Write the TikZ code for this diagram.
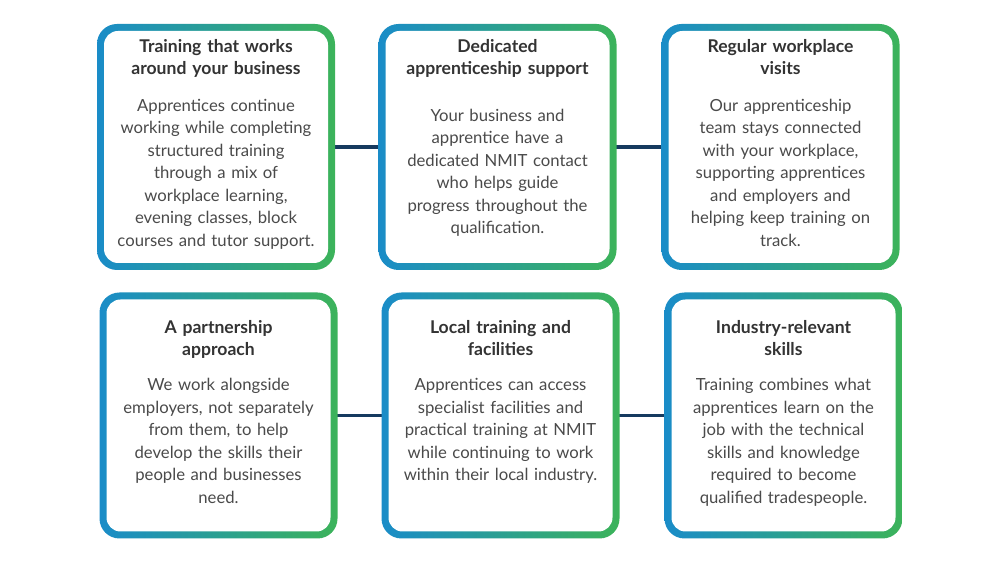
\documentclass[tikz,border=0pt]{standalone}
\usepackage{fontspec}
\setmainfont{Lato}
\usetikzlibrary{positioning}
\definecolor{nmitblue}{HTML}{1A8CC8}
\definecolor{nmitgreen}{HTML}{3CB35A}
\definecolor{linknavy}{HTML}{163A5F}
\definecolor{headgray}{HTML}{333333}
\definecolor{bodygray}{HTML}{4A4A4A}
\tikzset{
  card/.style={rounded corners=0.4cm, minimum width=4.76cm, minimum height=4.92cm,
    left color=nmitblue, right color=nmitgreen, inner sep=0pt},
  cardin/.style={rounded corners=0.28cm, fill=white, minimum width=4.48cm,
    minimum height=4.64cm, inner sep=0pt},
  head/.style={align=center, text width=4.4cm, inner sep=0pt, text=headgray,
    font=\fontsize{10}{12.6}\selectfont\bfseries},
  body/.style={align=center, text width=4.4cm, inner sep=0pt, text=bodygray,
    font=\fontsize{9.5}{12.8}\selectfont},
  link/.style={linknavy, line width=2.2pt}
}
\begin{document}
\begin{tikzpicture}
\useasboundingbox (0,0) rectangle (20,11.24);
% links sit behind the cards
\draw[link] (4.32,8.30) -- (15.61,8.30);
\draw[link] (4.37,2.93) -- (15.67,2.93);
% top row
\node[card] (b1) at (4.32,8.30) {};
\node[card] (b2) at (9.95,8.30) {};
\node[card] (b3) at (15.61,8.30) {};
% bottom row
\node[card] (b4) at (4.37,2.93) {};
\node[card] (b5) at (10.01,2.93) {};
\node[card] (b6) at (15.67,2.93) {};
\foreach \b in {b1,b2,b3,b4,b5,b6}
  \node[cardin] (\b in) at (\b) {};

\node[head, below=0.30cm of b1.north] (t1) {Training that works\\around your business};
\node[body, below=1.50cm of b1.north] (x1) {Apprentices continue\\working while completing\\structured training\\through a mix of\\workplace learning,\\evening classes, block\\courses and tutor support.};
\node[head, below=0.30cm of b2.north] (t2) {Dedicated\\apprenticeship support};
\node[body, below=1.70cm of b2.north] (x2) {Your business and\\apprentice have a\\dedicated NMIT contact\\who helps guide\\progress throughout the\\qualification.};
\node[head, below=0.30cm of b3.north] (t3) {Regular workplace\\visits};
\node[body, below=1.50cm of b3.north] (x3) {Our apprenticeship\\team stays connected\\with your workplace,\\supporting apprentices\\and employers and\\helping keep training on\\track.};

\node[head, below=0.56cm of b4.north] (t4) {A partnership\\approach};
\node[body, below=1.72cm of b4.north] (x4) {We work alongside\\employers, not separately\\from them, to help\\develop the skills their\\people and businesses\\need.};
\node[head, below=0.56cm of b5.north] (t5) {Local training and\\facilities};
\node[body, below=1.72cm of b5.north] (x5) {Apprentices can access\\specialist facilities and\\practical training at NMIT\\while continuing to work\\within their local industry.};
\node[head, below=0.56cm of b6.north] (t6) {Industry-relevant\\skills};
\node[body, below=1.72cm of b6.north] (x6) {Training combines what\\apprentices learn on the\\job with the technical\\skills and knowledge\\required to become\\qualified tradespeople.};
\end{tikzpicture}
\end{document}
